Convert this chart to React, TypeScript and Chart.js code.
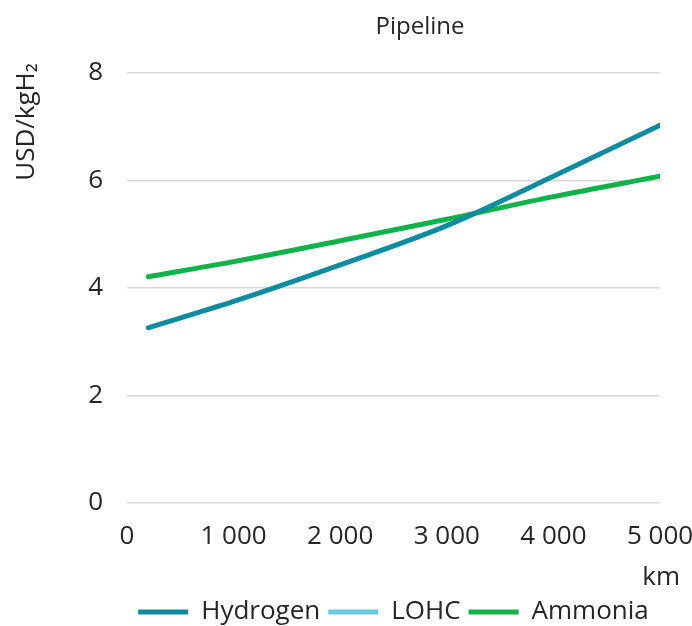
import React, { useEffect, useRef } from "react";
import { Chart, registerables } from "chart.js";

Chart.register(...registerables);

const distanceKm = [200, 1000, 2000, 3000, 4000, 5000];
const hydrogen = [3.26, 3.75, 4.43, 5.16, 6.08, 7.03];
const lohc: number[] = [];
const ammonia = [4.21, 4.49, 4.88, 5.28, 5.7, 6.08];

const chartTitle = "Pipeline";
const yTitle = "USD/kgH₂";
const xTitle = "km";

const FONT = "'Open Sans', 'Noto Sans', sans-serif";
const TEXT = "#262626";

const toPoints = (vals: number[]) => vals.map((v, i) => ({ x: distanceKm[i], y: v }));

const textPlugin = {
  id: "customTexts",
  afterDraw(chart: any) {
    const ctx = chart.ctx;
    ctx.save();
    ctx.fillStyle = TEXT;
    ctx.textBaseline = "middle";
    ctx.textAlign = "center";
    ctx.font = `24px ${FONT}`;
    ctx.fillText(chartTitle, 420, 27);
    ctx.font = `26px ${FONT}`;
    ctx.textAlign = "right";
    ctx.fillText(xTitle, 680, 578);
    ctx.translate(27, 122);
    ctx.rotate(-Math.PI / 2);
    ctx.textAlign = "center";
    ctx.fillText(yTitle, 0, 0);
    ctx.restore();
  },
};

export default function App() {
  const ref = useRef<HTMLCanvasElement | null>(null);
  useEffect(() => {
    if (!ref.current) return;
    const chart = new Chart(ref.current, {
      type: "line",
      data: {
        datasets: [
          {
            label: "Hydrogen",
            data: toPoints(hydrogen),
            borderColor: "#0F8BA0",
            backgroundColor: "#0F8BA0",
            borderWidth: 5,
            pointRadius: 0,
            cubicInterpolationMode: "monotone",
            borderCapStyle: "round",
          },
          {
            label: "LOHC",
            data: toPoints(lohc),
            borderColor: "#6CC9E2",
            backgroundColor: "#6CC9E2",
            borderWidth: 5,
            pointRadius: 0,
            borderCapStyle: "round",
          },
          {
            label: "Ammonia",
            data: toPoints(ammonia),
            borderColor: "#12B24A",
            backgroundColor: "#12B24A",
            borderWidth: 5,
            pointRadius: 0,
            cubicInterpolationMode: "monotone",
            borderCapStyle: "round",
          },
        ],
      },
      options: {
        animation: false,
        responsive: false,
        maintainAspectRatio: false,
        layout: { padding: { top: 73, right: 32, left: 0, bottom: -9 } },
        plugins: {
          title: { display: false },
          tooltip: { enabled: false },
          legend: {
            position: "bottom",
            fullSize: false,
            labels: {
              usePointStyle: true,
              pointStyle: "line",
              pointStyleWidth: 50,
              boxHeight: 26,
              padding: 8,
              color: TEXT,
              font: { family: FONT, size: 26 },
            },
          },
        },
        scales: {
          x: {
            type: "linear",
            min: 0,
            max: 5000,
            grid: { display: false, drawTicks: false },
            border: { display: false },
            ticks: {
              stepSize: 1000,
              padding: 18,
              color: TEXT,
              font: { family: FONT, size: 26 },
              maxRotation: 0,
              callback: (v: any) => Number(v).toLocaleString("en-US").replace(/,/g, " "),
            },
            afterFit: (s: any) => {
              s.height = 88;
              s.paddingLeft = 0;
              s.paddingRight = 0;
            },
          },
          y: {
            min: 0,
            max: 8,
            grid: { color: "#d9d9d9", lineWidth: 1.5, drawTicks: false },
            border: { display: false },
            ticks: {
              stepSize: 2,
              padding: 24,
              color: TEXT,
              font: { family: FONT, size: 26 },
            },
            afterFit: (s: any) => {
              s.width = 127;
              s.paddingTop = 0;
              s.paddingBottom = 0;
            },
          },
        },
      },
      plugins: [textPlugin],
    } as any);
    return () => chart.destroy();
  }, []);
  return (
    <div style={{ position: "absolute", left: 0, top: 0, width: 692, height: 626, background: "#fff" }}>
      <canvas ref={ref} width={692} height={626} style={{ width: 692, height: 626 }} />
    </div>
  );
}
